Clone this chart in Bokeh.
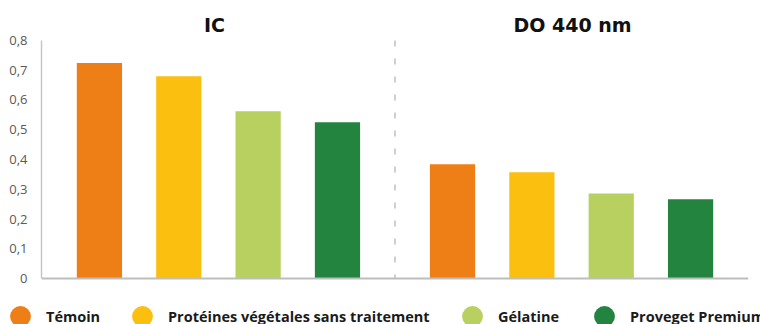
import math
from bokeh.plotting import figure
from bokeh.layouts import column
from bokeh.models import (FactorRange, Range1d, FixedTicker, ColumnDataSource, Legend,
                          LegendItem, Span)
from bokeh.core.properties import value
from bokeh.embed import file_html
from bokeh.resources import INLINE

# ---- data ----
groups = ["IC", "DO 440 nm"]
series = ["Témoin", "Protéines végétales sans traitement", "Gélatine", "Proveget Premium"]
ic_values = [0.724, 0.680, 0.562, 0.525]
do_values = [0.384, 0.357, 0.286, 0.266]
colors = ["#EE7F16", "#FBBF10", "#B7D05F", "#238440"]
y_ticks = [0, 0.1, 0.2, 0.3, 0.4, 0.5, 0.6, 0.7, 0.8]
y_tick_labels = ["0", "0,1", "0,2", "0,3", "0,4", "0,5", "0,6", "0,7", "0,8"]

# ---- layout constants ----
GROUP_PAD = 0.45
RANGE_PAD = 0.23
Y_MAX = 0.9008
Y_BELOW = 0.0403
TITLE_Y = 0.852
TITLE_DX = [-4, 1]
LEGEND_X = [-6, 116, 446, 578]

factors = [(g, s) for g in groups for s in series]
tops = ic_values + do_values
bar_colors = colors * len(groups)
src = ColumnDataSource(dict(x=factors, top=tops, color=bar_colors))

x_range = FactorRange(factors=factors, group_padding=GROUP_PAD, factor_padding=0,
                      range_padding=RANGE_PAD, range_padding_units="absolute")

p = figure(width=760, height=290, x_range=x_range, y_range=Range1d(-Y_BELOW, Y_MAX),
           output_backend="svg", toolbar_location=None, x_axis_location=None,
           min_border_left=41, min_border_right=12, min_border_top=10, min_border_bottom=0)
p.frame_align = False
p.outline_line_color = None
p.xgrid.visible = False
p.ygrid.visible = False

p.vbar(x="x", bottom=0, top="top", width=0.57, source=src, fill_color="color", line_color=None)

# dashed divider between the two groups
div = len(series) + GROUP_PAD / 2
p.segment(x0=[div], y0=[y_ticks[-1]], x1=[div], y1=[y_ticks[0]], line_color="#b5b5b5",
          line_width=1.3, line_dash="6 12")

# baseline
p.add_layout(Span(location=y_ticks[0], dimension="width", line_color="#bdbdbd", line_width=2))

# group titles
title_src = ColumnDataSource(dict(x=groups, y=[TITLE_Y] * len(groups), text=groups, dx=TITLE_DX))
p.text(x="x", y="y", text="text", x_offset="dx", source=title_src, text_align="center",
       text_baseline="middle", text_font=value("DejaVu Sans"), text_font_style="bold",
       text_font_size="19px", text_color="#111111")

# y axis
yax = p.yaxis[0]
yax.ticker = FixedTicker(ticks=y_ticks)
yax.major_label_overrides = {t: l for t, l in zip(y_ticks, y_tick_labels)}
yax.bounds = (y_ticks[0], y_ticks[-1])
yax.axis_line_color = "#c4c4c4"
yax.axis_line_width = 1.4
yax.major_tick_line_color = None
yax.minor_tick_line_color = None
yax.major_tick_out = 0
yax.major_tick_in = 0
yax.major_label_standoff = 14
yax.major_label_text_font = "Open Sans"
yax.major_label_text_font_size = "13px"
yax.major_label_text_color = "#595959"

# ---- legend strip ----
lf = figure(width=760, height=34, x_range=Range1d(0, 1), y_range=Range1d(0, 1),
            output_backend="svg", toolbar_location=None,
            x_axis_location=None, y_axis_location=None, min_border=0)
lf.frame_align = False
lf.outline_line_color = None
lf.xgrid.visible = False
lf.ygrid.visible = False
leg_src = ColumnDataSource(dict(x=[math.nan] * len(series), y=[math.nan] * len(series),
                                color=colors))
leg_r = lf.scatter("x", "y", source=leg_src, marker="circle", size=21,
                   fill_color="color", line_color=None)
for i, s in enumerate(series):
    lf.add_layout(Legend(items=[LegendItem(label=s, renderers=[leg_r], index=i)],
                         location=(LEGEND_X[i], -18), orientation="horizontal",
                         glyph_width=52, glyph_height=52, label_standoff=-6,
                         padding=0, margin=0, border_line_color=None, background_fill_alpha=0,
                         label_text_font="Open Sans", label_text_font_style="bold",
                         label_text_font_size="14.5px", label_text_color="#1a1a1a"))

layout = column(p, lf, spacing=0)
open("out.html", "w").write(file_html(layout, INLINE))
